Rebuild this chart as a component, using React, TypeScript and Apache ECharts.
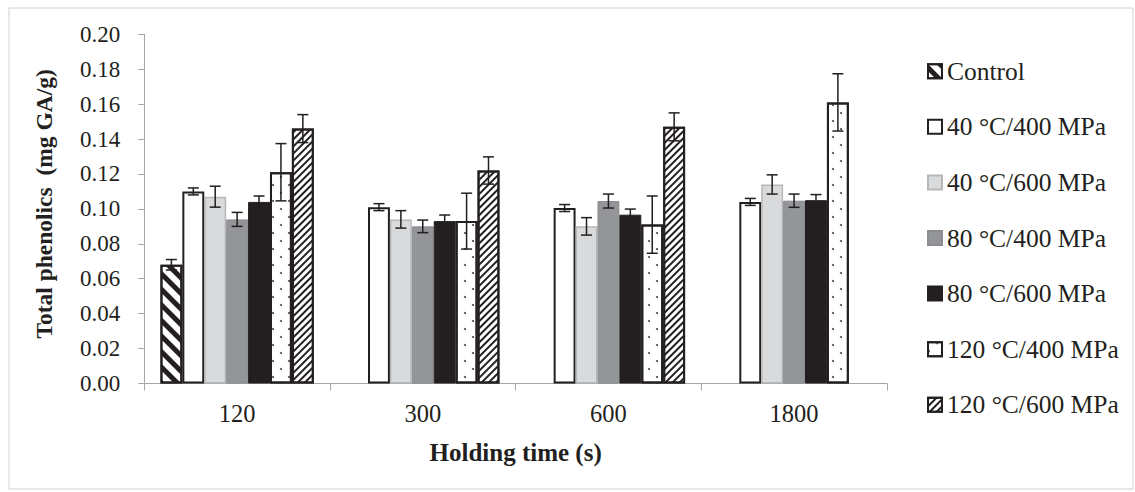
import React, { useEffect, useRef } from "react";
import * as echarts from "echarts";

// ---- data ----
const categories = ["120", "300", "600", "1800"];
const seriesNames = [
  "Control",
  "40 °C/400 MPa",
  "40 °C/600 MPa",
  "80 °C/400 MPa",
  "80 °C/600 MPa",
  "120 °C/400 MPa",
  "120 °C/600 MPa",
];
const control = [0.068, null, null, null];
const t40p400 = [0.11, 0.101, 0.1005, 0.104];
const t40p600 = [0.107, 0.094, 0.09, 0.114];
const t80p400 = [0.094, 0.09, 0.1045, 0.1047];
const t80p600 = [0.104, 0.093, 0.0967, 0.105];
const t120p400 = [0.121, 0.093, 0.091, 0.161];
const t120p600 = [0.146, 0.122, 0.147, null];

const controlErr = [0.003, null, null, null];
const t40p400Err = [0.002, 0.002, 0.002, 0.002];
const t40p600Err = [0.006, 0.005, 0.005, 0.0055];
const t80p400Err = [0.004, 0.0036, 0.004, 0.0038];
const t80p600Err = [0.0034, 0.0035, 0.0032, 0.0032];
const t120p400Err = [0.0164, 0.016, 0.0164, 0.0164];
const t120p600Err = [0.008, 0.0078, 0.008, null];

const yTicks = { min: 0, max: 0.2, interval: 0.02 };

const values = [control, t40p400, t40p600, t80p400, t80p600, t120p400, t120p600];
const errors = [controlErr, t40p400Err, t40p600Err, t80p400Err, t80p600Err, t120p400Err, t120p600Err];

// ---- styles ----
const FONT = "'Liberation Serif', 'Times New Roman', serif";
const INK = "#231f20";
const CAT_GAP = 0.174;

const itemStyles: any[] = [
  {
    color: "#ffffff",
    borderColor: INK,
    borderWidth: 2,
    decal: {
      symbol: "rect",
      symbolSize: 1,
      color: INK,
      dashArrayX: [1, 0],
      dashArrayY: [5, 6],
      rotation: Math.PI / 4,
    },
  },
  { color: "#ffffff", borderColor: INK, borderWidth: 2 },
  { color: "#d9dadb", borderColor: "#b6b7b9", borderWidth: 1.5 },
  { color: "#939598", borderColor: "#8a8c8f", borderWidth: 1 },
  { color: INK, borderColor: INK, borderWidth: 1 },
  {
    color: "#ffffff",
    borderColor: INK,
    borderWidth: 2,
    decal: {
      symbol: "circle",
      symbolSize: 1,
      color: "#444444",
      dashArrayX: [
        [2, 14],
        [0, 8, 2, 6],
      ],
      dashArrayY: [2, 6],
      rotation: 0,
    },
  },
  {
    color: "#ffffff",
    borderColor: INK,
    borderWidth: 2,
    decal: {
      symbol: "rect",
      symbolSize: 1,
      color: INK,
      dashArrayX: [1, 0],
      dashArrayY: [2, 3],
      rotation: -Math.PI / 4,
    },
  },
];

export default function App() {
  const ref = useRef<HTMLDivElement>(null);
  useEffect(() => {
    if (!ref.current) return;
    const chart = echarts.init(ref.current, undefined, { renderer: "svg" });
    const n = seriesNames.length;

    const barSeries = seriesNames.map((name, i) => ({
      name,
      type: "bar",
      data: values[i].map((v) => (v == null ? "-" : v)),
      barGap: "0%",
      barCategoryGap: (CAT_GAP * 100).toFixed(1) + "%",
      itemStyle: itemStyles[i],
      z: 2,
    }));

    const errSeries = seriesNames.map((name, i) => ({
      name: "err-" + name,
      type: "custom",
      z: 5,
      clip: false,
      silent: true,
      data: values[i]
        .map((v, c) => (v == null || errors[i][c] == null ? null : [c, v, errors[i][c]]))
        .filter((d) => d != null),
      renderItem: (params: any, api: any) => {
        const c = api.value(0);
        const v = api.value(1);
        const e = api.value(2);
        const band = api.size([1, 0])[0];
        const bw = (band * (1 - CAT_GAP)) / n;
        const center = api.coord([c, v]);
        const x = center[0] + (i - (n - 1) / 2) * bw;
        const top = api.coord([c, v + e])[1];
        const bot = api.coord([c, v - e])[1];
        const cap = 5.5;
        const st = { stroke: INK, lineWidth: 1.5 };
        return {
          type: "group",
          children: [
            { type: "line", shape: { x1: x, y1: top, x2: x, y2: bot }, style: st },
            { type: "line", shape: { x1: x - cap, y1: top, x2: x + cap, y2: top }, style: st },
            { type: "line", shape: { x1: x - cap, y1: bot, x2: x + cap, y2: bot }, style: st },
          ],
        };
      },
    }));

    chart.setOption({
      animation: false,
      backgroundColor: "#ffffff",
      textStyle: { fontFamily: FONT, color: INK },
      grid: { left: 144.3, right: 248.1, top: 34.3, bottom: 108.5, containLabel: false },
      legend: {
        orient: "vertical",
        left: 927,
        top: 58.2,
        padding: 0,
        itemWidth: 14,
        itemHeight: 14,
        itemGap: 29.6,
        icon: "rect",
        data: seriesNames,
        textStyle: { fontFamily: FONT, fontSize: 25.5, color: INK, lineHeight: 25 },
        selectedMode: false,
      },
      xAxis: {
        type: "category",
        data: categories,
        name: "Holding time (s)",
        nameLocation: "middle",
        nameGap: 56,
        nameTextStyle: { fontFamily: FONT, fontSize: 25, fontWeight: "bold", color: INK },
        axisLine: { lineStyle: { color: "#a6a6a6", width: 1 } },
        axisTick: { show: true, length: 7, lineStyle: { color: "#a6a6a6" } },
        axisLabel: { fontFamily: FONT, fontSize: 24.5, color: INK, margin: 17 },
      },
      yAxis: {
        type: "value",
        min: yTicks.min,
        max: yTicks.max,
        interval: yTicks.interval,
        name: "Total phenolics  (mg GA/g)",
        nameLocation: "middle",
        nameGap: 88,
        nameTextStyle: {
          fontFamily: FONT,
          fontSize: 23.5,
          fontWeight: "bold",
          color: INK,
          padding: [0, 0, 0, 10],
        },
        axisLine: { show: true, lineStyle: { color: "#a6a6a6", width: 1 } },
        axisTick: { show: true, length: 6, lineStyle: { color: "#a6a6a6" } },
        splitLine: { show: false },
        axisLabel: {
          fontFamily: FONT,
          fontSize: 23,
          color: INK,
          margin: 24,
          formatter: (v: number) => v.toFixed(2),
        },
      },
      graphic: [
        {
          type: "rect",
          shape: { x: 9, y: 8, width: 1124, height: 481 },
          style: { fill: "none", stroke: "#d0d0d0", lineWidth: 1 },
          silent: true,
        },
      ],
      series: [...barSeries, ...errSeries],
    });
    return () => chart.dispose();
  }, []);
  return (
    <div
      ref={ref}
      style={{ position: "absolute", left: 0, top: 0, width: 1135, height: 492 }}
    />
  );
}
